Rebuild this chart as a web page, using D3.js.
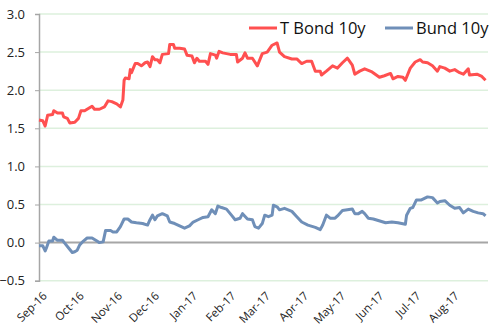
<!DOCTYPE html>
<html>
<head>
<meta charset="utf-8">
<script src="https://cdn.jsdelivr.net/npm/d3@7"></script>
<style>
  body { margin: 0; background: #fff; }
  svg { display: block; font-family: "Open Sans", "Liberation Sans", sans-serif; }
</style>
</head>
<body>
<svg width="490" height="329"></svg>
<script>
// séries (date, rendement %)
const tbond = [
  ["2016-09-01",1.61],["2016-09-04",1.60],["2016-09-06",1.53],["2016-09-08",1.67],["2016-09-12",1.68],
  ["2016-09-13",1.73],["2016-09-16",1.70],["2016-09-20",1.70],["2016-09-21",1.65],["2016-09-24",1.63],
  ["2016-09-26",1.57],["2016-09-30",1.58],["2016-10-03",1.63],["2016-10-05",1.73],["2016-10-08",1.73],
  ["2016-10-11",1.76],["2016-10-14",1.79],["2016-10-16",1.75],["2016-10-20",1.75],["2016-10-24",1.78],
  ["2016-10-27",1.86],["2016-10-30",1.85],["2016-11-03",1.82],["2016-11-06",1.78],["2016-11-08",1.87],
  ["2016-11-09",2.13],["2016-11-10",2.16],["2016-11-13",2.15],["2016-11-14",2.27],["2016-11-15",2.23],
  ["2016-11-18",2.35],["2016-11-20",2.35],["2016-11-23",2.32],["2016-11-26",2.36],["2016-11-28",2.37],
  ["2016-11-30",2.31],["2016-12-02",2.44],["2016-12-04",2.40],["2016-12-06",2.40],["2016-12-08",2.36],
  ["2016-12-10",2.47],["2016-12-15",2.48],["2016-12-16",2.60],["2016-12-19",2.60],["2016-12-20",2.55],
  ["2016-12-24",2.55],["2016-12-28",2.54],["2016-12-30",2.46],["2017-01-03",2.45],["2017-01-05",2.36],
  ["2017-01-07",2.42],["2017-01-09",2.38],["2017-01-14",2.38],["2017-01-16",2.34],["2017-01-18",2.48],
  ["2017-01-22",2.46],["2017-01-23",2.42],["2017-01-25",2.51],["2017-01-28",2.49],["2017-02-03",2.47],
  ["2017-02-08",2.47],["2017-02-09",2.37],["2017-02-13",2.42],["2017-02-15",2.49],["2017-02-17",2.42],
  ["2017-02-21",2.42],["2017-02-25",2.32],["2017-03-01",2.48],["2017-03-05",2.50],["2017-03-09",2.59],
  ["2017-03-13",2.62],["2017-03-15",2.50],["2017-03-19",2.44],["2017-03-25",2.41],["2017-03-29",2.41],
  ["2017-04-02",2.35],["2017-04-06",2.38],["2017-04-10",2.38],["2017-04-13",2.25],["2017-04-17",2.25],
  ["2017-04-18",2.20],["2017-04-22",2.25],["2017-04-27",2.32],["2017-05-01",2.29],["2017-05-05",2.36],
  ["2017-05-09",2.42],["2017-05-13",2.33],["2017-05-15",2.21],["2017-05-19",2.25],["2017-05-23",2.28],
  ["2017-05-29",2.24],["2017-06-04",2.17],["2017-06-08",2.19],["2017-06-13",2.22],["2017-06-15",2.15],
  ["2017-06-19",2.18],["2017-06-23",2.17],["2017-06-25",2.13],["2017-06-29",2.29],["2017-07-03",2.37],
  ["2017-07-07",2.40],["2017-07-09",2.37],["2017-07-13",2.36],["2017-07-17",2.32],["2017-07-21",2.25],
  ["2017-07-23",2.31],["2017-07-27",2.29],["2017-07-31",2.25],["2017-08-04",2.27],["2017-08-08",2.23],
  ["2017-08-11",2.21],["2017-08-15",2.28],["2017-08-16",2.20],["2017-08-22",2.21],["2017-08-26",2.18],
  ["2017-08-29",2.13]
];

const bund = [
  ["2016-09-01",-0.04],["2016-09-04",-0.04],["2016-09-06",-0.11],["2016-09-07",-0.07],["2016-09-09",0.02],
  ["2016-09-12",0.02],["2016-09-13",0.07],["2016-09-16",0.03],["2016-09-20",0.03],["2016-09-22",-0.01],
  ["2016-09-25",-0.07],["2016-09-28",-0.13],["2016-09-30",-0.12],["2016-10-02",-0.10],["2016-10-04",-0.03],
  ["2016-10-07",0.02],["2016-10-10",0.06],["2016-10-14",0.06],["2016-10-17",0.03],["2016-10-20",0.00],
  ["2016-10-23",0.01],["2016-10-25",0.16],["2016-10-29",0.16],["2016-10-31",0.14],["2016-11-03",0.14],
  ["2016-11-06",0.21],["2016-11-09",0.31],["2016-11-12",0.31],["2016-11-15",0.27],["2016-11-19",0.26],
  ["2016-11-24",0.25],["2016-11-28",0.23],["2016-11-30",0.30],["2016-12-02",0.36],["2016-12-04",0.30],
  ["2016-12-06",0.35],["2016-12-10",0.38],["2016-12-14",0.35],["2016-12-16",0.27],["2016-12-20",0.25],
  ["2016-12-24",0.22],["2016-12-28",0.19],["2017-01-01",0.22],["2017-01-04",0.27],["2017-01-08",0.30],
  ["2017-01-12",0.33],["2017-01-16",0.34],["2017-01-19",0.43],["2017-01-22",0.38],["2017-01-24",0.48],
  ["2017-01-27",0.46],["2017-01-31",0.44],["2017-02-04",0.36],["2017-02-07",0.30],["2017-02-11",0.32],
  ["2017-02-13",0.38],["2017-02-17",0.31],["2017-02-21",0.30],["2017-02-23",0.21],["2017-02-26",0.19],
  ["2017-03-01",0.25],["2017-03-03",0.36],["2017-03-06",0.34],["2017-03-09",0.36],["2017-03-10",0.49],
  ["2017-03-13",0.47],["2017-03-15",0.43],["2017-03-19",0.45],["2017-03-22",0.43],["2017-03-25",0.41],
  ["2017-03-29",0.34],["2017-04-02",0.27],["2017-04-07",0.23],["2017-04-13",0.20],["2017-04-17",0.17],
  ["2017-04-19",0.23],["2017-04-22",0.36],["2017-04-25",0.32],["2017-04-29",0.32],["2017-05-01",0.35],
  ["2017-05-05",0.42],["2017-05-09",0.43],["2017-05-13",0.44],["2017-05-15",0.38],["2017-05-18",0.38],
  ["2017-05-21",0.41],["2017-05-23",0.38],["2017-05-26",0.32],["2017-05-30",0.31],["2017-06-03",0.29],
  ["2017-06-09",0.26],["2017-06-14",0.27],["2017-06-19",0.26],["2017-06-25",0.24],["2017-06-26",0.36],
  ["2017-06-29",0.45],["2017-07-01",0.46],["2017-07-04",0.56],["2017-07-08",0.56],["2017-07-13",0.60],
  ["2017-07-17",0.59],["2017-07-21",0.52],["2017-07-23",0.54],["2017-07-27",0.55],["2017-07-31",0.49],
  ["2017-08-04",0.45],["2017-08-08",0.46],["2017-08-11",0.39],["2017-08-15",0.44],["2017-08-19",0.41],
  ["2017-08-23",0.39],["2017-08-27",0.38],["2017-08-29",0.35]
];

const yTicks = [-0.5, 0, 0.5, 1.0, 1.5, 2.0, 2.5, 3.0];
const monthTicks = ["2016-09-01","2016-10-01","2016-11-01","2016-12-01","2017-01-01","2017-02-01",
  "2017-03-01","2017-04-01","2017-05-01","2017-06-01","2017-07-01","2017-08-01"];
const seriesNames = ["T Bond 10y", "Bund 10y"];
const seriesColors = ["#ff5050", "#6f8fb8"];

const parse = d3.timeParse("%Y-%m-%d");
const svg = d3.select("svg");

const x = d3.scaleTime()
  .domain([parse("2016-09-01"), parse("2017-08-31")])
  .range([39, 488]);
const y = d3.scaleLinear().domain([-0.5, 3]).range([280.7, 14]);

// grille horizontale
svg.append("g")
  .selectAll("line")
  .data(yTicks.filter(d => d !== 0))
  .enter().append("line")
  .attr("x1", 39).attr("x2", 488)
  .attr("y1", d => y(d)).attr("y2", d => y(d))
  .attr("stroke", "#ddf0dd").attr("stroke-width", 1.5);

// axe Y
const yAxis = svg.append("g")
  .attr("transform", "translate(39,0)")
  .call(d3.axisLeft(y).tickValues(yTicks).tickFormat(d3.format(".1f")).tickSize(4).tickPadding(10));
yAxis.select(".domain").attr("stroke", "#a6a6a6").attr("stroke-width", 1.5);
yAxis.selectAll(".tick line").attr("stroke", "#a6a6a6");
yAxis.selectAll("text").attr("fill", "#222").style("font-size", "13px").style("font-family", "Open Sans, sans-serif");

// ligne zéro + étiquettes de mois
svg.append("line")
  .attr("x1", 39).attr("x2", 488)
  .attr("y1", y(0)).attr("y2", y(0))
  .attr("stroke", "#a6a6a6").attr("stroke-width", 2);

svg.append("g")
  .selectAll("text")
  .data(monthTicks.map(parse))
  .enter().append("text")
  .attr("transform", d => `translate(${x(d) + 3},${291}) rotate(-45)`)
  .attr("text-anchor", "end")
  .attr("dy", "0.7em")
  .attr("fill", "#222")
  .style("font-size", "11.5px")
  .text(d3.timeFormat("%b-%y"));

// courbes
const line = d3.line()
  .x(d => x(parse(d[0])))
  .y(d => y(d[1]))
  .curve(d3.curveLinear);

[tbond, bund].forEach((data, i) => {
  svg.append("path")
    .datum(data)
    .attr("fill", "none")
    .attr("stroke", seriesColors[i])
    .attr("stroke-width", 3)
    .attr("stroke-linejoin", "round")
    .attr("d", line);
});

// légende
const legendX = [249, 385];
const legend = svg.append("g");
seriesNames.forEach((name, i) => {
  legend.append("line")
    .attr("x1", legendX[i]).attr("x2", legendX[i] + 28)
    .attr("y1", 28).attr("y2", 28)
    .attr("stroke", seriesColors[i]).attr("stroke-width", 3);
  legend.append("text")
    .attr("x", legendX[i] + 31).attr("y", 28)
    .attr("dy", "0.36em")
    .attr("fill", "#111")
    .style("font-size", "16.5px")
    .text(name);
});
</script>
</body>
</html>
